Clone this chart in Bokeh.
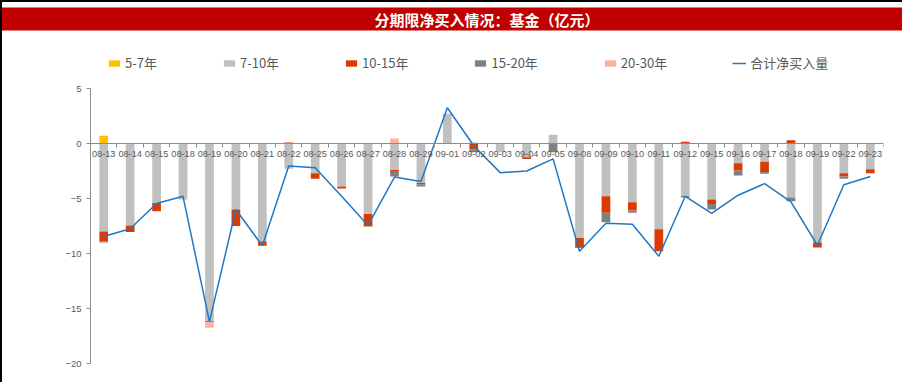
import numpy as np
from bokeh.plotting import figure
from bokeh.models import Range1d, FixedTicker, LinearAxis, Legend, LegendItem
from bokeh.embed import file_html
from bokeh.resources import INLINE

title_text = "分期限净买入情况：基金（亿元）"
dates = ["08-13", "08-14", "08-15", "08-18", "08-19", "08-20", "08-21", "08-22",
         "08-25", "08-26", "08-27", "08-28", "08-29",
         "09-01", "09-02", "09-03", "09-04", "09-05",
         "09-08", "09-09", "09-10", "09-11", "09-12",
         "09-15", "09-16", "09-17", "09-18", "09-19",
         "09-22", "09-23"]
series_names = ["5-7年", "7-10年", "10-15年", "15-20年", "20-30年"]
net_label = "合计净买入量"

s_5_7 = [0.7, 0, 0, 0, 0, 0, 0, 0,
         0, 0, 0, 0, 0,
         0, 0, 0, 0, 0,
         0, 0, 0, 0, 0,
         0, 0, 0, 0, 0,
         0, 0]
s_7_10 = [-8.0, -7.45, -5.4, -5.1, -16.15, -6.0, -8.9, -2.3,
          -2.7, -3.9, -6.4, -2.4, -3.6,
          2.7, 0.1, -0.8, -1.25, 0.8,
          -8.6, -4.8, -5.35, -7.8, -4.75,
          -5.1, -1.8, -1.65, -4.9, -9.0,
          -2.7, -2.35]
s_10_15 = [-0.9, -0.6, -0.75, 0, -0.1, -1.5, -0.4, 0.1,
           -0.5, -0.2, -1.15, -0.1, -0.1,
           0, -0.55, 0, -0.15, 0,
           -0.8, -1.5, -0.75, -2.0, 0.15,
           -0.4, -0.65, -0.95, 0.3, -0.45,
           -0.3, -0.35]
s_15_20 = [-0.1, 0.05, 0, 0, 0, 0, 0, 0,
           0, 0, 0, -0.5, -0.2,
           0, -0.25, 0, 0, -0.8,
           -0.1, -0.85, -0.2, 0, -0.15,
           -0.5, -0.45, -0.15, -0.35, 0,
           -0.2, 0]
s_20_30 = [0, 0, 0, 0, -0.5, 0, 0, 0,
           0, 0, 0, 0.45, 0,
           0, 0, 0, 0, 0,
           0, 0, -0.05, 0, 0,
           0, 0, 0, 0, 0,
           0, 0]
net_total = [-8.45, -7.75, -5.45, -4.8, -16.2, -6.0, -9.3, -2.05,
             -2.2, -4.8, -7.45, -3.05, -3.45,
             3.25, -0.2, -2.65, -2.5, -1.4,
             -9.8, -7.25, -7.35, -10.25, -4.8,
             -6.35, -4.7, -3.65, -5.3, -9.25,
             -3.75, -3.0]
y_ticks = [-20, -15, -10, -5, 0, 5]

series_values = [s_5_7, s_7_10, s_10_15, s_15_20, s_20_30]
colors = ["#FFC000", "#C0C0C0", "#DD3A00", "#808080", "#FFB09F"]
line_color = "#1F78C4"
axis_color = "#8C8C8C"
label_color = "#595959"

n = len(dates)
x = np.arange(n)

# frame spans y 30..363 px; 11 px per unit keeps 5 at y=88 and -20 at y=363
frame_top_extra = 58 / 11.0
p = figure(width=902, height=382,
           x_range=Range1d(-0.5, n - 0.5),
           y_range=Range1d(y_ticks[0], y_ticks[-1] + frame_top_extra),
           toolbar_location=None, output_backend="svg",
           x_axis_location=None, y_axis_location=None,
           min_border_left=88, min_border_right=21, min_border_top=28,
           min_border_bottom=21,
           outline_line_color=None, background_fill_color="white",
           border_fill_color="white",
           styles={"border-left": "2px solid #000000", "border-top": "2px solid #000000"})
p.grid.visible = False

# title band
p.title.text = title_text
p.title.align = "center"
p.title.offset = -29
p.title.text_color = "white"
p.title.text_font = "Noto Sans CJK SC"
p.title.text_font_style = "bold"
p.title.text_font_size = "15px"
p.title.background_fill_color = "#C00000"
p.title.padding = dict(left=700, right=700, top=1, bottom=1)
p.title.standoff = 0

yax = LinearAxis(ticker=FixedTicker(ticks=y_ticks, minor_ticks=[]),
                 bounds=(y_ticks[0], y_ticks[-1]),
                 major_tick_in=0, major_tick_out=4, minor_tick_in=0, minor_tick_out=0,
                 axis_line_color=axis_color, major_tick_line_color=axis_color,
                 major_label_text_color=label_color,
                 major_label_text_font="Liberation Sans",
                 major_label_text_font_size="9.5px", major_label_standoff=5)
p.add_layout(yax, "left")

xax = LinearAxis(ticker=FixedTicker(ticks=list(x), minor_ticks=list(np.arange(n + 1) - 0.5)),
                 fixed_location=0,
                 major_tick_in=0, major_tick_out=0, minor_tick_in=0, minor_tick_out=4,
                 axis_line_color=axis_color, minor_tick_line_color=axis_color,
                 major_label_overrides={int(i): d for i, d in zip(x, dates)},
                 major_label_text_color=label_color,
                 major_label_text_font="Liberation Sans",
                 major_label_text_font_size="9.2px", major_label_standoff=3)
p.add_layout(xax, "below")

pos = np.zeros(n)
neg = np.zeros(n)
items = []
for name, vals, col in zip(series_names, series_values, colors):
    v = np.asarray(vals, dtype=float)
    base = np.where(v >= 0, pos, neg)
    top = base + v
    pos = np.where(v >= 0, top, pos)
    neg = np.where(v < 0, top, neg)
    r = p.vbar(x=x, width=0.33, bottom=base, top=top, fill_color=col, line_color=None)
    items.append(LegendItem(label=name, renderers=[r]))

lr = p.line(x, net_total, line_color=line_color, line_width=1.5)
items.append(LegendItem(label=net_label, renderers=[lr]))

legend = Legend(items=items, orientation="horizontal", location=(17, 291),
                margin=0, padding=0, spacing=65, glyph_width=14, glyph_height=8,
                label_standoff=4, label_text_font="Noto Sans CJK SC",
                label_text_font_size="13px", label_text_color=label_color,
                border_line_color=None, background_fill_alpha=0)
p.add_layout(legend)

open("out.html", "w").write(file_html(p, INLINE))
